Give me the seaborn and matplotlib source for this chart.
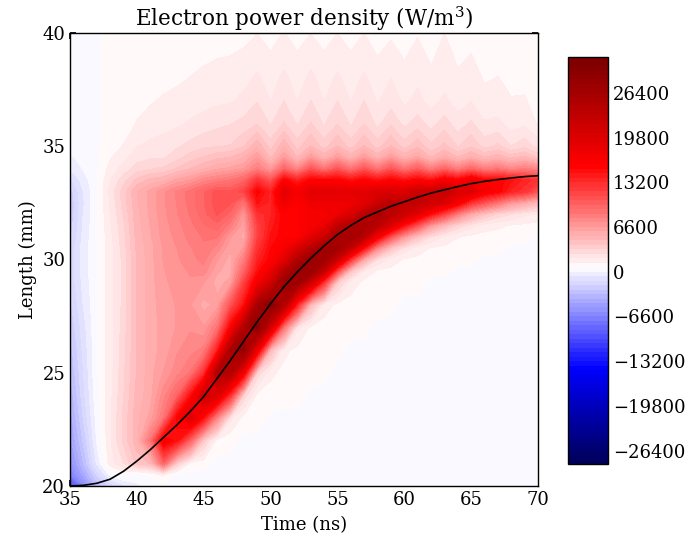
import numpy as np
import matplotlib
matplotlib.use('Agg')
import matplotlib.pyplot as plt
from matplotlib.colors import Normalize
import seaborn as sns

# Set aesthetic styling for plots
sns.set_theme(style="ticks", font="DejaVu Serif", rc={
    'font.size': 13, 'axes.labelsize': 13, 'axes.titlesize': 15.5,
    'xtick.labelsize': 13, 'ytick.labelsize': 13,
    'xtick.direction': 'in', 'ytick.direction': 'in',
    'xtick.top': True, 'ytick.right': True,
    'xtick.major.size': 4, 'ytick.major.size': 4,
    'axes.edgecolor': 'black', 'axes.linewidth': 1.0,
    'text.color': 'black', 'axes.labelcolor': 'black',
    'xtick.color': 'black', 'ytick.color': 'black',
    'mathtext.fontset': 'dejavuserif',
})

# ------------------------------------------------------------------------------
# DATA
# ------------------------------------------------------------------------------
length_mm = [20, 20.5, 21, 22, 23, 24, 25, 26, 27, 28, 29, 29.5, 30, 30.5, 31, 31.5,
             32, 32.5, 33, 33.5, 34, 34.5, 35, 36, 37, 38, 39, 40]

time_ns = [35, 36, 37, 38, 39, 40, 41, 42, 43, 44, 45, 46, 47, 48, 49, 50, 51, 52, 53,
           54, 55, 56, 57, 58, 59, 60, 61, 62, 63, 64, 65, 66, 67, 68, 69, 70]

# one list per time, kW/m^3, from 20 mm up to 40 mm
power_kw = [
    [-11, -7.5, -6.5, -5.5, -5, -4.5, -4, -3.6, -3.2, -2.8, -2.5, -2.4, -2.4, -2.5, -2.8, -3, -3.2, -3.2, -3, -2.2, -1.3, -.8, -.3, -.3, -.3, -.3, -.3, -.3],
    [-7, -5, -4, -3.2, -2.6, -2.2, -2, -1.8, -1.6, -1.3, -1.1, -1, -1, -1, -1.1, -1.2, -1.3, -1.4, -1.3, -1, -.6, -.4, -.2, -.2, -.2, -.2, -.2, -.2],
    [-4, -2.5, -1.2, -.6, -.4, -.2, -.1, -.1, -.1, -.1, -.1, -.1, -.1, -.1, -.1, -.1, -.1, -.1, -.1, -.1, -.1, -.1, -.1, -.1, -.1, -.1, -.1, -.1],
    [-2.5, -.5, 1, 1.2, 1.2, 1.1, 1, 1, 1, 1, 1, 1, 1, 1, 1.1, 1.2, 1.3, 1.4, 1.5, 1.3, .9, .6, .4, .2, .2, .2, .2, .2],
    [-1.5, .2, 2, 2.8, 2.8, 2.6, 2.5, 2.4, 2.3, 2.2, 2.2, 2.2, 2.2, 2.3, 2.4, 2.5, 2.7, 2.9, 3, 2.4, 1.6, 1.1, .7, .3, .2, .2, .2, .2],
    [-.8, -.3, 3.5, 4.4, 4.4, 4.2, 4, 4, 4, 4, 4, 4, 4, 4.1, 4.2, 4.3, 4.4, 4.5, 4.6, 3.5, 2.3, 1.7, 1.3, .7, .45, .3, .2, .2],
    [-.4, .1, 4, 8, 5.5, 5, 5, 5, 5, 5, 5, 5, 5, 5, 5.2, 5.3, 5.4, 5.5, 5.5, 4.2, 2.6, 1.9, 1.5, .9, .6, .4, .25, .2],
    [-.2, .8, 9, 16, 8, 7, 6, 5.5, 5.5, 5.6, 5.8, 5.9, 6, 6, 6.2, 6.3, 6.4, 6.5, 6.5, 4.5, 2.8, 1.9, 1.6, 1.1, .75, .45, .3, .2],
    [-.2, -.2, 3, 14, 15, 9, 7, 6.5, 6, 6, 6.2, 6.3, 6.5, 6.6, 6.8, 7, 7.2, 7.3, 7.4, 5.5, 3.4, 2.4, 1.9, 1.2, .85, .55, .35, .25],
    [-.2, -.2, .5, 9, 19, 14, 8, 7, 6.5, 6, 6.5, 6.7, 7, 7.2, 7.5, 7.7, 8, 8.2, 8.2, 6, 4, 3, 2.2, 1.4, 1, .68, .45, .3],
    [-.2, -.2, .2, 3, 14, 21, 12, 7.5, 6, 5, 6, 7, 7.5, 7.8, 8, 8.5, 9, 9.2, 9.2, 7, 4.6, 3.4, 2.5, 1.6, 1.1, .8, .55, .35],
    [-.2, -.2, -.2, .4, 7, 19, 24, 13, 8, 5.5, 5, 5.4, 6, 7, 8, 9, 10, 10.3, 10.2, 7.5, 5.2, 3.8, 2.6, 1.8, 1.2, .9, .62, .4],
    [-.2, -.2, -.2, .2, 1.5, 12, 24, 25, 15, 10, 5.5, 5, 5, 5.4, 6, 7.5, 9, 10, 10, 8, 5.5, 4, 2.7, 1.95, 1.25, .95, .66, .45],
    [-.2, -.2, -.2, -.2, .4, 2.5, 16, 28, 24, 14, 11, 9, 7.5, 6, 5, 5.5, 6, 8, 11, 9, 6, 4.6, 3.3, 2.2, 1.5, 1.1, .75, .5],
    [-.2, -.2, -.2, -.2, .3, .5, 2.5, 17, 29, 25, 16, 14, 13, 12, 11, 11, 12, 14, 15, 12, 7.5, 6, 4.5, 2.6, 1.95, 1.45, 1, .65],
    [-.2, -.2, -.2, -.2, -.2, .4, .8, 4, 20, 29, 20, 17, 15, 14.5, 14, 13.5, 13, 13, 13, 10, 6, 3.8, 3, 1.9, 1.3, 1, .7, .5],
    [-.2, -.2, -.2, -.2, -.2, .3, .5, .8, 8, 24, 27, 23, 18, 16, 15, 15, 15, 17, 18, 15, 9, 6, 4.5, 2.7, 2, 1.5, 1.05, .68],
    [-.2, -.2, -.2, -.2, -.2, .3, .4, .5, 1.5, 13, 27, 27, 24, 19, 15, 15, 15, 15, 16, 13, 7, 4, 3, 1.9, 1.3, 1, .7, .5],
    [-.2, -.2, -.2, -.2, -.2, -.2, .3, .4, .5, 4, 21, 27, 27, 23, 18, 16, 16, 17, 18, 15, 10, 6, 4, 2.7, 2, 1.5, 1.05, .65],
    [-.2, -.2, -.2, -.2, -.2, -.2, .2, .3, .4, 1, 12, 22, 26, 26, 21, 17, 16, 17, 18, 15, 8, 4.5, 3, 1.9, 1.3, 1, .7, .5],
    [-.2, -.2, -.2, -.2, -.2, -.2, -.2, .2, .4, .5, 3, 11, 21, 26, 25, 22, 17, 17, 18, 15, 10, 6, 4, 2.6, 2, 1.45, 1, .66],
    [-.2, -.2, -.2, -.2, -.2, -.2, -.2, -.2, .2, .4, 1, 3.5, 12, 22, 26, 24, 19, 17, 18, 14, 8, 4.5, 3, 1.9, 1.3, 1, .7, .5],
    [-.2, -.2, -.2, -.2, -.2, -.2, -.2, -.2, .2, .4, .5, 1.2, 5, 14, 23, 25, 23, 18, 18, 15, 10, 6, 4, 2.6, 2, 1.45, 1, .66],
    [-.2, -.2, -.2, -.2, -.2, -.2, -.2, -.2, -.2, .3, .4, .6, 2, 7, 16, 23, 25, 21, 19, 14, 8, 4.5, 3, 1.8, 1.25, .95, .65, .45],
    [-.2, -.2, -.2, -.2, -.2, -.2, -.2, -.2, -.2, .2, .4, .5, 1, 3.5, 10, 19, 23, 23, 19, 15, 10, 6, 4, 2.5, 1.7, 1.32, .9, .55],
    [-.2, -.2, -.2, -.2, -.2, -.2, -.2, -.2, -.2, -.2, .3, .4, .6, 1.8, 6, 14, 21, 22, 19, 14, 8, 4.5, 3, 1.8, 1.2, .9, .6, .4],
    [-.2, -.2, -.2, -.2, -.2, -.2, -.2, -.2, -.2, -.2, .3, .4, .5, 1, 3.5, 10, 18, 22, 21, 15, 9.5, 5.5, 3.8, 2.3, 1.5, 1.2, .9, .6],
    [-.2, -.2, -.2, -.2, -.2, -.2, -.2, -.2, -.2, -.2, -.2, .3, .4, .6, 2, 6, 14, 21, 21, 14, 7.5, 4, 2.8, 1.7, 1.1, .8, .55, .4],
    [-.2, -.2, -.2, -.2, -.2, -.2, -.2, -.2, -.2, -.2, -.2, .2, .4, .5, 1.2, 4, 11, 19, 22, 16, 9, 5, 3.5, 2.3, 1.45, 1.1, .9, .66],
    [-.2, -.2, -.2, -.2, -.2, -.2, -.2, -.2, -.2, -.2, -.2, -.2, .3, .4, .7, 2.5, 7.5, 16, 19, 15, 7.5, 4, 2.6, 1.6, 1.05, .75, .55, .4],
    [-.2, -.2, -.2, -.2, -.2, -.2, -.2, -.2, -.2, -.2, -.2, -.2, .2, .4, .5, 1.6, 5, 12, 19, 17, 9, 4.8, 3.2, 2.1, 1.3, .95, .68, .5],
    [-.2, -.2, -.2, -.2, -.2, -.2, -.2, -.2, -.2, -.2, -.2, -.2, -.2, .3, .4, 1, 3.5, 10, 16, 15, 7.5, 4, 2.4, 1.4, .85, .6, .45, .3],
    [-.2, -.2, -.2, -.2, -.2, -.2, -.2, -.2, -.2, -.2, -.2, -.2, -.2, .3, .4, .8, 2.5, 8, 15, 15, 8, 4.4, 2.8, 1.5, .9, .68, .5, .3],
    [-.2, -.2, -.2, -.2, -.2, -.2, -.2, -.2, -.2, -.2, -.2, -.2, -.2, -.2, .3, .6, 2, 6, 13, 14, 7, 3.8, 2, 1, .7, .5, .35, .3],
    [-.2, -.2, -.2, -.2, -.2, -.2, -.2, -.2, -.2, -.2, -.2, -.2, -.2, -.2, .3, .5, 1.5, 5, 12, 13, 7.5, 4.2, 2.4, 1.2, .72, .5, .35, .3],
    [-.2, -.2, -.2, -.2, -.2, -.2, -.2, -.2, -.2, -.2, -.2, -.2, -.2, -.2, -.2, .4, 1.2, 4, 10, 12, 7, 3.2, 1.7, .6, .4, .3, .25, .2],
]

# black line, front position
front_time = [35, 36, 37, 38, 39, 40, 41, 42, 43, 44, 45, 46, 47, 48, 49, 50, 51, 52,
              53, 54, 55, 56, 57, 58, 59, 60, 61, 62, 63, 64, 65, 66, 67, 68, 69, 70]
front_length = [20.0, 20.03, 20.12, 20.3, 20.65, 21.1, 21.6, 22.15, 22.7, 23.3, 23.95,
                24.75, 25.55, 26.4, 27.25, 28.05, 28.8, 29.45, 30.05, 30.6, 31.1, 31.5,
                31.85, 32.1, 32.35, 32.55, 32.75, 32.93, 33.08, 33.22, 33.35, 33.45,
                33.53, 33.6, 33.66, 33.7]

cbar_ticks = [-26400, -19800, -13200, -6600, 0, 6600, 13200, 19800, 26400]
level_step = 660
level_low = -43
level_high = 48
# background sits one band above the zero contour in the reference
band_offset_kw = 0.66
color_low = -29310
color_high = 30690

# ------------------------------------------------------------------------------
# PLOT
# ------------------------------------------------------------------------------
W, H = 696, 536
fig = plt.figure(figsize=(W / 100, H / 100), dpi=100)
ax = fig.add_axes([70 / W, 1 - 486 / H, 468 / W, 453 / H])
cax = fig.add_axes([568 / W, 1 - 464 / H, 40 / W, 407 / H])

cmap = sns.color_palette("seismic", as_cmap=True)
levels = np.arange(level_low, level_high + 1) * level_step
field = (np.array(power_kw).T + band_offset_kw) * 1000
cs = ax.contourf(time_ns, length_mm, field, levels=levels, cmap=cmap,
                 norm=Normalize(color_low, color_high))

sns.lineplot(x=front_time, y=front_length, color='black', linewidth=1.2, ax=ax)

ax.set_xlim(35, 70)
ax.set_ylim(20, 40)
ax.set_xticks(range(35, 71, 5))
ax.set_yticks(range(20, 41, 5))
ax.set_xlabel('Time (ns)', labelpad=5)
ax.set_ylabel('Length (mm)', labelpad=4)
ax.set_title('Electron power density (W/m$^3$)', pad=2)

cb = fig.colorbar(cs, cax=cax, ticks=cbar_ticks)
cb.ax.tick_params(direction='in', length=4, right=True, left=False)
cb.ax.set_yticklabels([str(t).replace('-', '\u2212') for t in cbar_ticks])
cb.outline.set_linewidth(1.0)

fig.savefig('out.png', dpi=100)
